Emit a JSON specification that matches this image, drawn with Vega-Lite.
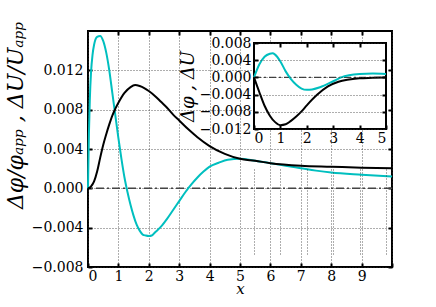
{
  "$schema": "https://vega.github.io/schema/vega-lite/v6.json",
  "autosize": "none",
  "padding": {"left": 88, "top": 31, "right": 44, "bottom": 40},
  "width": 304,
  "height": 236,
  "view": {"stroke": "#000", "strokeWidth": 2},
  "datasets": {
    "mc": [{"x":0,"y":0},{"x":0.01,"y":0.002},{"x":0.03,"y":0.0055},{"x":0.06,"y":0.009},{"x":0.1,"y":0.0118},{"x":0.15,"y":0.0136},{"x":0.2,"y":0.0146},{"x":0.3,"y":0.0154},{"x":0.4,"y":0.0155},{"x":0.5,"y":0.015},{"x":0.6,"y":0.0138},{"x":0.7,"y":0.012},{"x":0.8,"y":0.0097},{"x":0.9,"y":0.0074},{"x":1.0,"y":0.0051},{"x":1.1,"y":0.003},{"x":1.2,"y":0.0011},{"x":1.3,"y":-0.0004},{"x":1.4,"y":-0.0017},{"x":1.5,"y":-0.0028},{"x":1.6,"y":-0.0037},{"x":1.7,"y":-0.0043},{"x":1.8,"y":-0.0047},{"x":1.9,"y":-0.0048},{"x":2.0,"y":-0.00485},{"x":2.1,"y":-0.0048},{"x":2.2,"y":-0.0045},{"x":2.4,"y":-0.0039},{"x":2.6,"y":-0.0031},{"x":2.8,"y":-0.0022},{"x":3.0,"y":-0.0013},{"x":3.2,"y":-0.0004},{"x":3.4,"y":0.0004},{"x":3.6,"y":0.0011},{"x":3.8,"y":0.0017},{"x":4.0,"y":0.0022},{"x":4.3,"y":0.0026},{"x":4.6,"y":0.0029},{"x":5.0,"y":0.003},{"x":5.5,"y":0.0028},{"x":6.0,"y":0.00256},{"x":6.5,"y":0.0023},{"x":7.0,"y":0.00205},{"x":7.5,"y":0.0018},{"x":8.0,"y":0.0016},{"x":9.0,"y":0.00138},{"x":10,"y":0.0012}],
    "mk": [{"x":0,"y":0},{"x":0.1,"y":0.0002},{"x":0.2,"y":0.0007},{"x":0.3,"y":0.0017},{"x":0.4,"y":0.0031},{"x":0.5,"y":0.0044},{"x":0.6,"y":0.0055},{"x":0.7,"y":0.0065},{"x":0.8,"y":0.0074},{"x":0.9,"y":0.0081},{"x":1.0,"y":0.0087},{"x":1.2,"y":0.0097},{"x":1.4,"y":0.0103},{"x":1.55,"y":0.0105},{"x":1.7,"y":0.0104},{"x":1.85,"y":0.0102},{"x":2.0,"y":0.0099},{"x":2.2,"y":0.0094},{"x":2.4,"y":0.0088},{"x":2.6,"y":0.0082},{"x":2.8,"y":0.0075},{"x":3.0,"y":0.0069},{"x":3.3,"y":0.006},{"x":3.6,"y":0.0052},{"x":4.0,"y":0.0043},{"x":4.5,"y":0.0035},{"x":5.0,"y":0.003},{"x":5.5,"y":0.0028},{"x":6.0,"y":0.00256},{"x":7.0,"y":0.0023},{"x":8.0,"y":0.0022},{"x":9.0,"y":0.0021},{"x":10,"y":0.00205}],
    "ic": [{"x":0,"y":0},{"x":0.2,"y":0.003},{"x":0.4,"y":0.0048},{"x":0.6,"y":0.0055},{"x":0.7,"y":0.0056},{"x":0.8,"y":0.0053},{"x":1.0,"y":0.0037},{"x":1.2,"y":0.0014},{"x":1.4,"y":-0.0004},{"x":1.6,"y":-0.0017},{"x":1.8,"y":-0.0026},{"x":2.0,"y":-0.0029},{"x":2.2,"y":-0.0028},{"x":2.5,"y":-0.0023},{"x":3.0,"y":-0.0009},{"x":3.3,"y":0},{"x":3.6,"y":0.0005},{"x":4.0,"y":0.0008},{"x":4.5,"y":0.0009},{"x":5.0,"y":0.0008}],
    "ik": [{"x":0,"y":0},{"x":0.2,"y":-0.0034},{"x":0.4,"y":-0.0066},{"x":0.6,"y":-0.0089},{"x":0.8,"y":-0.0104},{"x":1.0,"y":-0.0111},{"x":1.2,"y":-0.0109},{"x":1.4,"y":-0.0101},{"x":1.6,"y":-0.0091},{"x":1.8,"y":-0.0079},{"x":2.0,"y":-0.0065},{"x":2.4,"y":-0.004},{"x":2.8,"y":-0.0021},{"x":3.2,"y":-0.001},{"x":3.6,"y":-0.0005},{"x":4.0,"y":-0.0002},{"x":4.5,"y":-0.0001},{"x":5.0,"y":0}]
  },
  "resolve": {"scale": {"x": "independent", "y": "independent"}, "axis": {"x": "independent", "y": "independent"}},
  "layer": [
    {
      "data": {"values": [{}]},
      "mark": {"type": "rule", "color": "#444", "strokeWidth": 1.5, "strokeDash": [8, 3, 2, 3]},
      "encoding": {"y": {"datum": 0, "type": "quantitative", "scale": {"domain": [-0.008, 0.016], "nice": false, "zero": false}, "axis": null}}
    },
    {
      "data": {"name": "mc"},
      "mark": {"type": "line", "color": "#00BFBF", "strokeWidth": 2, "interpolate": "monotone"},
      "encoding": {
        "x": {"field": "x", "type": "quantitative", "scale": {"domain": [0, 10], "nice": false},
          "axis": {"orient": "bottom", "values": [0,1,2,3,4,5,6,7,8,9,10], "labelExpr": "datum.value == 10 ? '' : datum.label", "grid": true, "gridDash": [1, 2], "gridColor": "#333", "gridWidth": 0.8, "labelPadding": 6, "title": "x", "titleFontStyle": "italic", "titleFontSize": 15, "titleY": 26, "titleBaseline": "alphabetic"}},
        "y": {"field": "y", "type": "quantitative", "scale": {"domain": [-0.008, 0.016], "nice": false, "zero": false},
          "axis": {"orient": "left", "values": [-0.008, -0.004, 0, 0.004, 0.008, 0.012], "format": ".3f", "grid": true, "gridDash": [1, 2], "gridColor": "#333", "gridWidth": 0.8, "labelPadding": 9, "title": "Δφ/φₐₚₚ ,  ΔU/Uₐₚₚ", "titleFontSize": 22, "titleFontStyle": "italic", "titleX": -66, "titleY": 84, "titleAngle": 270, "titleAlign": "center", "titleBaseline": "alphabetic"}}
      }
    },
    {
      "data": {"name": "mk"},
      "mark": {"type": "line", "color": "#000", "strokeWidth": 2, "interpolate": "monotone"},
      "encoding": {
        "x": {"field": "x", "type": "quantitative", "scale": {"domain": [0, 10], "nice": false},
          "axis": {"orient": "top", "values": [1,2,3,4,5,6,7,8,9], "labels": false, "title": null}},
        "y": {"field": "y", "type": "quantitative", "scale": {"domain": [-0.008, 0.016], "nice": false, "zero": false},
          "axis": {"orient": "right", "values": [-0.008, -0.004, 0, 0.004, 0.008, 0.012], "labels": false, "title": null}}
      }
    },
    {
      "data": {"values": [{}]},
      "mark": {"type": "rect", "fill": "#fff", "stroke": "#000", "strokeWidth": 2},
      "encoding": {
        "x": {"datum": 0, "type": "quantitative", "scale": {"domain": [0, 5], "nice": false, "range": [166, 298]}, "axis": null},
        "x2": {"datum": 5},
        "y": {"datum": -0.012, "type": "quantitative", "scale": {"domain": [-0.012, 0.008], "nice": false, "zero": false, "range": [98, 12]}, "axis": null},
        "y2": {"datum": 0.008}
      }
    },
    {
      "data": {"values": [{}]},
      "mark": {"type": "rule", "color": "#444", "strokeWidth": 1.3, "strokeDash": [7, 3, 2, 3]},
      "encoding": {
        "x": {"datum": 0, "type": "quantitative", "scale": {"domain": [0, 5], "nice": false, "range": [166, 298]}, "axis": null},
        "x2": {"datum": 5},
        "y": {"datum": 0, "type": "quantitative", "scale": {"domain": [-0.012, 0.008], "nice": false, "zero": false, "range": [98, 12]}, "axis": null}
      }
    },
    {
      "data": {"name": "ic"},
      "mark": {"type": "line", "color": "#00BFBF", "strokeWidth": 2, "interpolate": "monotone"},
      "encoding": {
        "x": {"field": "x", "type": "quantitative", "scale": {"domain": [0, 5], "nice": false, "range": [166, 298]},
          "axis": {"orient": "bottom", "offset": -138, "zindex": 1, "values": [0,1,2,3,4,5], "grid": true, "gridDash": [1, 2], "gridColor": "#333", "gridWidth": 0.8, "labelPadding": 6, "title": null}},
        "y": {"field": "y", "type": "quantitative", "scale": {"domain": [-0.012, 0.008], "nice": false, "zero": false, "range": [98, 12]},
          "axis": {"orient": "left", "offset": -166, "zindex": 1, "values": [-0.012, -0.008, -0.004, 0, 0.004, 0.008], "format": ".3f", "grid": true, "gridDash": [1, 2], "gridColor": "#333", "gridWidth": 0.8, "labelPadding": 7, "title": "Δφ , ΔU", "titleFontSize": 18, "titleFontStyle": "italic", "titleX": -61, "titleY": 55, "titleAngle": 270, "titleAlign": "center", "titleBaseline": "alphabetic"}}
      }
    },
    {
      "data": {"name": "ik"},
      "mark": {"type": "line", "color": "#000", "strokeWidth": 2, "interpolate": "monotone"},
      "encoding": {
        "x": {"field": "x", "type": "quantitative", "scale": {"domain": [0, 5], "nice": false, "range": [166, 298]},
          "axis": {"orient": "top", "offset": -12, "zindex": 1, "values": [1,2,3,4], "labels": false, "title": null}},
        "y": {"field": "y", "type": "quantitative", "scale": {"domain": [-0.012, 0.008], "nice": false, "zero": false, "range": [98, 12]},
          "axis": {"orient": "right", "offset": -6, "zindex": 1, "values": [-0.008, -0.004, 0, 0.004], "labels": false, "title": null}}
      }
    }
  ],
  "config": {
    "font": "DejaVu Serif",
    "axis": {
      "labelFont": "DejaVu Serif",
      "labelFontSize": 14,
      "labelColor": "#000",
      "titleFont": "DejaVu Serif",
      "titleFontWeight": "normal",
      "titleColor": "#000",
      "domain": false,
      "grid": false,
      "tickColor": "#000",
      "tickWidth": 2,
      "tickSize": -4
    }
  }
}
